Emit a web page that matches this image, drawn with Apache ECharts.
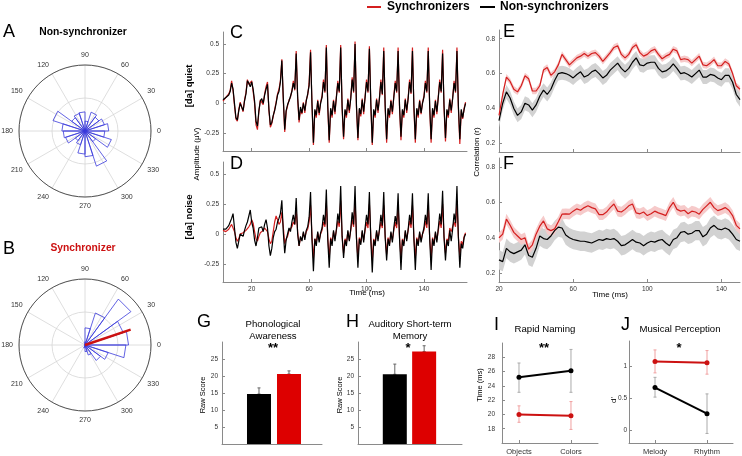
<!DOCTYPE html>
<html><head><meta charset="utf-8">
<script src="https://cdn.jsdelivr.net/npm/echarts@6/dist/echarts.min.js"></script>
<style>html,body{margin:0;padding:0;background:#fff}#c{width:742px;height:456px}</style>
</head><body><div id="c"></div>
<script>
// ================= DATA =================
// Rose histograms (20 bins of 18 degrees, bin start angles)
const roseBinStarts = [0,18,36,54,72,90,108,126,144,162,180,198,216,234,252,270,288,306,324,342];
const roseBinWidth = 18;
const roseNonSync = [3.6,3.1,2.6,3.0,1.5,2.9,2.8,2.5,5.1,3.5,3.3,3.1,1.8,2.2,3.5,3.9,5.6,2.0,4.2,3.0];
const roseSync    = [6.6,6.1,8.6,5.1,2.6,0.5,0.3,0,0,0,0,0,0,0.3,0.5,1.0,1.6,2.9,3.7,6.2];
const syncMeanAngle = 18.7, syncMeanLength = 7.3;

// Waveforms, 1 ms sampling from 0 ms
const waveStartMs = 0, waveStepMs = 1;
const quietSync = [0.02,0.03,0.05,0.05,0.08,0.11,0.19,0.11,-0.02,-0.13,-0.15,-0.05,0.01,0.0,-0.07,0.03,0.09,0.2,0.16,0.15,0.19,0.1,0.0,-0.18,-0.22,-0.07,0.03,0.03,-0.01,0.08,0.14,0.18,-0.06,-0.2,-0.17,-0.11,-0.05,0.01,0.08,0.12,0.19,0.37,0.03,-0.24,-0.07,-0.02,0.03,0.05,0.11,0.19,0.11,0.44,0.04,-0.16,-0.05,-0.09,0.01,-0.08,0.03,0.07,0.17,0.45,-0.02,-0.35,-0.06,-0.12,0.03,-0.1,0.01,0.06,0.2,0.09,0.49,-0.04,-0.33,-0.05,-0.12,0.03,-0.09,0.06,0.19,0.09,0.49,-0.05,-0.3,-0.06,-0.12,0.04,-0.08,0.05,0.22,0.09,0.52,-0.04,-0.31,-0.05,-0.11,0.04,-0.09,0.06,0.2,0.09,0.48,-0.02,-0.35,-0.06,-0.12,0.04,-0.08,0.05,0.2,0.07,0.47,-0.04,-0.33,-0.05,-0.12,0.03,-0.09,0.06,0.19,0.09,0.47,-0.04,-0.31,-0.06,-0.12,0.04,-0.08,0.05,0.2,0.08,0.47,-0.04,-0.33,-0.05,-0.12,0.03,-0.09,0.01,0.06,0.19,0.09,0.47,-0.04,-0.33,-0.05,-0.12,0.03,-0.09,0.06,0.2,0.09,0.45,-0.04,-0.32,-0.06,-0.12,0.04,-0.08,0.05,0.19,0.09,0.47,-0.04,-0.34,-0.06,-0.13,-0.04,0.01];
const quietNonSync = [0.03,0.04,0.05,0.06,0.07,0.1,0.17,0.12,0.0,-0.12,-0.14,-0.06,0.0,0.01,-0.06,0.02,0.08,0.19,0.17,0.14,0.18,0.12,0.02,-0.15,-0.19,-0.06,0.02,0.04,0.0,0.07,0.12,0.16,-0.05,-0.18,-0.16,-0.1,-0.06,0.0,0.07,0.1,0.18,0.36,0.05,-0.22,-0.06,-0.01,0.02,0.06,0.1,0.17,0.12,0.42,0.06,-0.14,-0.03,-0.08,0.0,-0.06,0.02,0.08,0.15,0.43,0.0,-0.33,-0.05,-0.1,0.02,-0.08,0.0,0.05,0.18,0.1,0.47,-0.02,-0.31,-0.04,-0.1,0.02,-0.07,0.05,0.17,0.1,0.47,-0.03,-0.28,-0.05,-0.1,0.03,-0.06,0.04,0.2,0.1,0.5,-0.02,-0.29,-0.04,-0.09,0.03,-0.07,0.05,0.18,0.1,0.46,0.0,-0.33,-0.05,-0.1,0.03,-0.06,0.04,0.18,0.08,0.44,-0.02,-0.3,-0.04,-0.1,0.02,-0.07,0.05,0.17,0.1,0.44,-0.02,-0.28,-0.05,-0.1,0.03,-0.06,0.04,0.18,0.09,0.44,-0.02,-0.3,-0.04,-0.1,0.02,-0.08,0.0,0.05,0.17,0.1,0.44,-0.02,-0.3,-0.04,-0.1,0.02,-0.07,0.05,0.18,0.1,0.42,-0.02,-0.29,-0.05,-0.1,0.03,-0.06,0.04,0.17,0.1,0.44,-0.02,-0.3,-0.05,-0.12,-0.05,0.0];
const noiseSync = [0.03,0.03,0.02,0.03,0.04,0.06,0.08,0.07,0.02,-0.03,-0.06,-0.04,0.0,0.0,0.01,0.02,0.03,0.04,0.06,0.08,0.12,0.09,0.02,-0.04,-0.06,-0.02,0.01,0.02,0.03,0.05,0.06,0.02,-0.04,-0.08,-0.06,0.02,0.1,0.15,0.12,0.08,0.1,0.18,0.06,-0.08,-0.04,-0.02,0.03,0.02,0.06,0.1,0.08,0.2,0.02,-0.1,-0.03,-0.05,0.01,-0.03,0.02,0.04,0.1,0.24,-0.02,-0.2,-0.04,-0.07,0.01,-0.05,0.0,0.03,0.1,0.06,0.26,-0.03,-0.2,-0.03,-0.07,0.02,-0.04,0.03,0.11,0.06,0.28,-0.02,-0.16,-0.04,-0.07,0.02,-0.05,0.03,0.12,0.06,0.28,-0.03,-0.2,-0.03,-0.07,0.02,-0.05,0.03,0.1,0.05,0.25,-0.03,-0.22,-0.04,-0.08,0.02,-0.04,0.03,0.1,0.05,0.24,-0.02,-0.17,-0.03,-0.08,0.01,-0.05,0.03,0.1,0.05,0.24,-0.03,-0.2,-0.04,-0.08,0.02,-0.04,0.03,0.11,0.05,0.24,-0.03,-0.2,-0.03,-0.08,0.01,-0.05,0.0,0.03,0.11,0.05,0.24,-0.03,-0.2,-0.03,-0.08,0.01,-0.05,0.03,0.11,0.05,0.25,-0.02,-0.16,-0.04,-0.06,0.05,0.02,0.03,0.1,0.06,0.27,-0.02,-0.18,-0.06,-0.09,-0.02,0.01];
const noiseNonSync = [0.04,0.05,0.04,0.05,0.07,0.1,0.13,0.17,0.05,-0.07,-0.12,-0.06,0.0,-0.01,-0.02,0.03,0.07,0.1,0.15,0.2,0.1,0.05,-0.05,-0.1,-0.03,0.05,0.04,0.06,0.02,0.08,0.12,0.05,-0.1,-0.18,-0.12,-0.03,0.02,0.04,0.1,0.13,0.17,0.28,0.02,-0.16,-0.05,0.0,0.05,0.02,0.1,0.16,0.08,0.3,0.0,-0.1,-0.02,-0.06,0.02,-0.05,0.03,0.06,0.14,0.35,-0.05,-0.31,-0.04,-0.1,0.02,-0.07,0.01,0.05,0.16,0.08,0.37,-0.05,-0.28,-0.04,-0.1,0.03,-0.06,0.04,0.17,0.09,0.4,-0.02,-0.2,-0.05,-0.1,0.03,-0.06,0.04,0.18,0.08,0.4,-0.04,-0.28,-0.04,-0.09,0.03,-0.07,0.05,0.16,0.08,0.35,-0.05,-0.32,-0.05,-0.1,0.03,-0.06,0.04,0.16,0.07,0.35,-0.03,-0.22,-0.04,-0.1,0.02,-0.07,0.05,0.15,0.08,0.34,-0.04,-0.3,-0.05,-0.1,0.03,-0.06,0.04,0.16,0.08,0.34,-0.04,-0.3,-0.04,-0.1,0.02,-0.07,0.0,0.05,0.16,0.08,0.34,-0.04,-0.3,-0.04,-0.1,0.02,-0.07,0.05,0.17,0.08,0.36,-0.03,-0.22,-0.05,-0.1,0.03,-0.06,0.04,0.17,0.09,0.4,-0.03,-0.28,-0.08,-0.12,-0.03,0.0];

// Correlations, 2 ms sampling from 20 ms
const corrStartMs = 20, corrStepMs = 2;
const corrQuietSync = [0.36,0.48,0.58,0.555,0.51,0.495,0.53,0.587,0.57,0.50,0.50,0.53,0.62,0.635,0.59,0.61,0.65,0.71,0.68,0.65,0.67,0.69,0.70,0.715,0.70,0.715,0.72,0.70,0.67,0.695,0.72,0.75,0.76,0.71,0.69,0.71,0.75,0.765,0.72,0.70,0.71,0.73,0.74,0.71,0.685,0.70,0.71,0.74,0.73,0.68,0.685,0.68,0.66,0.68,0.70,0.65,0.645,0.66,0.68,0.645,0.645,0.67,0.655,0.60,0.53,0.51];
const corrQuietNonSync = [0.33,0.43,0.495,0.46,0.40,0.36,0.38,0.43,0.42,0.39,0.42,0.47,0.505,0.48,0.51,0.56,0.60,0.605,0.60,0.59,0.575,0.595,0.61,0.58,0.59,0.61,0.62,0.60,0.575,0.59,0.62,0.64,0.66,0.63,0.61,0.63,0.665,0.69,0.65,0.645,0.66,0.665,0.665,0.63,0.61,0.615,0.63,0.655,0.63,0.60,0.605,0.595,0.58,0.60,0.62,0.58,0.58,0.595,0.59,0.575,0.565,0.59,0.59,0.55,0.48,0.45];
const corrNoiseSync = [0.40,0.42,0.505,0.47,0.43,0.41,0.39,0.40,0.335,0.36,0.42,0.465,0.495,0.45,0.44,0.45,0.49,0.533,0.535,0.533,0.55,0.563,0.555,0.57,0.58,0.57,0.563,0.53,0.53,0.545,0.57,0.59,0.55,0.545,0.56,0.58,0.59,0.54,0.535,0.545,0.525,0.535,0.55,0.54,0.533,0.525,0.57,0.60,0.56,0.55,0.555,0.535,0.55,0.545,0.533,0.56,0.58,0.60,0.57,0.553,0.56,0.57,0.555,0.525,0.47,0.45];
const corrNoiseNonSync = [0.275,0.265,0.34,0.32,0.31,0.32,0.33,0.36,0.30,0.29,0.34,0.41,0.395,0.39,0.41,0.44,0.46,0.455,0.415,0.40,0.39,0.385,0.38,0.38,0.375,0.37,0.38,0.39,0.385,0.395,0.39,0.395,0.38,0.355,0.36,0.375,0.39,0.375,0.37,0.355,0.37,0.38,0.375,0.385,0.39,0.37,0.355,0.39,0.40,0.43,0.435,0.42,0.425,0.44,0.44,0.405,0.42,0.455,0.47,0.45,0.445,0.455,0.445,0.42,0.39,0.38];
const semQuietSync = 0.018, semQuietNonSync = 0.04, semNoiseSync = 0.03, semNoiseNonSync = 0.055;

// Bar panels G, H  [non-synchronizers, synchronizers]
const phonoMean = [14.7, 20.6], phonoUpper = [16.5, 21.5];
const memoryMean = [20.5, 27.2], memoryUpper = [23.5, 28.9];
const barTicks = [5,10,15,20,25];

// Line panels I, J
const namingCats = ['Objects','Colors'];
const namingNonSync = [25.2, 26.1], namingNonSyncLo = [23.1, 23.1], namingNonSyncHi = [27.2, 29.1];
const namingSync = [20.0, 19.8], namingSyncLo = [18.9, 17.9], namingSyncHi = [21.2, 21.8];
const namingTicks = [18,20,22,24,26,28];
const musicCats = ['Melody','Rhythm'];
const musicNonSync = [0.67, 0.26], musicNonSyncLo = [0.52, -0.05], musicNonSyncHi = [0.83, 0.57];
const musicSync = [1.08, 1.06], musicSyncLo = [0.90, 0.88], musicSyncHi = [1.26, 1.25];
const musicTicks = [0, 0.5, 1];

const waveTicks = [20, 60, 100, 140];
const ampTicks = [-0.25, 0, 0.25, 0.5];
const corrTicks = [0.2, 0.4, 0.6, 0.8];

// ================= STYLE =================
const RED = '#d41f1f', BLACK = '#000000', BLUE = '#3b3bdc';
const AXC = '#8a8a8a', LBL = '#333333', FONT = 'Liberation Sans, Arial, sans-serif';

function pairs(start, step, arr){ return arr.map((v,i)=>[start + i*step, v]); }
function axisBase(grid, min, max, ticks, showLabels, extra){
  return Object.assign({
    type:'value', gridIndex:grid, min:min, max:max, scale:false,
    axisLine:{show:true, onZero:false, lineStyle:{color:AXC, width:1}},
    axisTick:{show:!!ticks, inside:true, length:3, customValues:ticks||[], lineStyle:{color:AXC}},
    axisLabel:{show:showLabels, customValues:ticks||[], fontSize:6.5, color:LBL, fontFamily:FONT, margin:4},
    splitLine:{show:false}
  }, extra||{});
}
function lineS(grid, data, color, width, extra){
  return Object.assign({type:'line', xAxisIndex:grid, yAxisIndex:grid, data:data, showSymbol:false, symbol:'none',
    lineStyle:{color:color, width:width}, itemStyle:{color:color}, silent:true, animation:false}, extra||{});
}
function bandS(grid, start, step, mean, sem, fill){
  return {type:'custom', xAxisIndex:grid, yAxisIndex:grid, data:[[start, mean[0]]], silent:true, animation:false, z:1,
    renderItem:function(p, api){
      const pts=[];
      for(let i=0;i<mean.length;i++) pts.push(api.coord([start+i*step, mean[i]+sem]));
      for(let i=mean.length-1;i>=0;i--) pts.push(api.coord([start+i*step, mean[i]-sem]));
      return {type:'polygon', shape:{points:pts}, style:{fill:fill}};
    }};
}
function errS(grid, xs, lo, hi, color, cap){
  return {type:'custom', xAxisIndex:grid, yAxisIndex:grid, silent:true, animation:false, z:1,
    data: xs.map((x,i)=>[x, lo[i], hi[i]]),
    renderItem:function(p, api){
      const a = api.coord([api.value(0), api.value(1)]), b = api.coord([api.value(0), api.value(2)]);
      const st = {stroke:color, lineWidth:1};
      return {type:'group', children:[
        {type:'line', shape:{x1:a[0],y1:a[1],x2:b[0],y2:b[1]}, style:st},
        {type:'line', shape:{x1:a[0]-cap,y1:a[1],x2:a[0]+cap,y2:a[1]}, style:st},
        {type:'line', shape:{x1:b[0]-cap,y1:b[1],x2:b[0]+cap,y2:b[1]}, style:st}
      ]};
    }};
}
function roseData(starts, width, counts){
  const d=[];
  counts.forEach((c,i)=>{ const a1=starts[i], a2=starts[i]+width; d.push([0,a1],[c,a1],[c,a2],[0,a2]); });
  return d;
}
function txt(x, y, text, o){
  o = o||{};
  return {type:'text', x:x, y:y, rotation:o.rot||0, silent:true, z:100,
    style:{text:text, fill:o.color||'#000', font:(o.weight||'normal')+' '+(o.size||9)+'px '+FONT,
      textAlign:o.align||'center', textVerticalAlign:'middle'}};
}

// ================= CHART =================
const chart = echarts.init(document.getElementById('c'), null, {renderer:'canvas'});

const grids = [
  {left:223, top:32, width:244, height:119},  // C
  {left:223, top:162, width:244, height:120}, // D
  {left:499, top:30, width:241, height:122},  // E
  {left:499, top:158, width:241, height:124}, // F
  {left:222, top:342, width:100, height:102}, // G
  {left:358, top:342, width:104, height:102}, // H
  {left:502, top:343, width:96, height:101},  // I
  {left:629, top:341, width:104, height:103}  // J
];

const catLabel = (cats, margin) => ({show:true, customValues:[1,2], fontSize:7.5, color:LBL, fontFamily:FONT, margin:margin, formatter:v=>cats[Math.round(v)-1]});
const xAxes = [
  axisBase(0, 0, 170, waveTicks, false),
  axisBase(1, 0, 170, waveTicks, true),
  axisBase(2, 20, 150, waveTicks, false),
  axisBase(3, 20, 150, waveTicks, true),
  axisBase(4, -0.233, 3.1, null, false),
  axisBase(5, -0.254, 3.29, null, false),
  axisBase(6, 0.673, 2.52, [1,2], true, {axisLabel:catLabel(namingCats, 5)}),
  axisBase(7, 0.5, 2.5, [1,2], true, {axisLabel:catLabel(musicCats, 5)})
];
const yLab = (m) => ({show:true, fontSize:6.5, color:LBL, fontFamily:FONT, margin:m});
const yAxes = [
  axisBase(0, -0.4, 0.6, ampTicks, true),
  axisBase(1, -0.4, 0.6, ampTicks, true),
  axisBase(2, 0.15, 0.85, corrTicks, true),
  axisBase(3, 0.15, 0.85, corrTicks, true),
  axisBase(4, 0, 30, barTicks, true),
  axisBase(5, 0, 30, barTicks, true),
  axisBase(6, 16, 30, namingTicks, true, {axisLabel:Object.assign(yLab(7), {customValues:namingTicks})}),
  axisBase(7, -0.2, 1.4, musicTicks, true, {axisLabel:Object.assign(yLab(2), {customValues:musicTicks})})
];

function polarAxes(idx){
  return {
    angle:{polarIndex:idx, type:'value', min:0, max:360, interval:30, startAngle:0, clockwise:false,
      axisLine:{show:true, lineStyle:{color:'#555', width:1}}, axisTick:{show:false},
      axisLabel:{show:true, fontSize:7, color:LBL, fontFamily:FONT, margin:6, formatter:v=> (v>=360?'':String(v))},
      splitLine:{show:true, lineStyle:{color:'#d6d6d6', width:0.8}}},
    radius:{polarIndex:idx, type:'value', min:0, max:10, interval:5,
      axisLine:{show:false}, axisTick:{show:false}, axisLabel:{show:false},
      splitLine:{show:true, lineStyle:{color:'#d6d6d6', width:0.8}}}
  };
}
const pA = polarAxes(0), pB = polarAxes(1);

const series = [
  // rose A / B
  {type:'line', coordinateSystem:'polar', polarIndex:0, data:roseData(roseBinStarts, roseBinWidth, roseNonSync),
    symbol:'none', lineStyle:{color:BLUE, width:0.8}, silent:true, animation:false},
  {type:'line', coordinateSystem:'polar', polarIndex:1, data:roseData(roseBinStarts, roseBinWidth, roseSync),
    symbol:'none', lineStyle:{color:BLUE, width:0.8}, silent:true, animation:false},
  {type:'line', coordinateSystem:'polar', polarIndex:1, data:[[0, syncMeanAngle],[syncMeanLength, syncMeanAngle]],
    symbol:'none', lineStyle:{color:'#cc1111', width:2.4}, silent:true, animation:false, z:5},
  // C, D
  lineS(0, pairs(waveStartMs, waveStepMs, quietSync), RED, 1.2),
  lineS(0, pairs(waveStartMs, waveStepMs, quietNonSync), BLACK, 1.2),
  lineS(1, pairs(waveStartMs, waveStepMs, noiseSync), RED, 1.2),
  lineS(1, pairs(waveStartMs, waveStepMs, noiseNonSync), BLACK, 1.2),
  // E
  bandS(2, corrStartMs, corrStepMs, corrQuietNonSync, semQuietNonSync, '#d2d2d2'),
  bandS(2, corrStartMs, corrStepMs, corrQuietSync, semQuietSync, '#f6caca'),
  lineS(2, pairs(corrStartMs, corrStepMs, corrQuietNonSync), BLACK, 1.2, {z:3}),
  lineS(2, pairs(corrStartMs, corrStepMs, corrQuietSync), RED, 1.2, {z:3}),
  // F
  bandS(3, corrStartMs, corrStepMs, corrNoiseNonSync, semNoiseNonSync, '#d2d2d2'),
  bandS(3, corrStartMs, corrStepMs, corrNoiseSync, semNoiseSync, '#f6caca'),
  lineS(3, pairs(corrStartMs, corrStepMs, corrNoiseNonSync), BLACK, 1.2, {z:3}),
  lineS(3, pairs(corrStartMs, corrStepMs, corrNoiseSync), RED, 1.2, {z:3}),
  // G
  errS(4, [1,2], phonoMean, phonoUpper, '#666', 1.5),
  {type:'bar', xAxisIndex:4, yAxisIndex:4, barWidth:24, silent:true, animation:false, z:2,
    data:[{value:[1, phonoMean[0]], itemStyle:{color:'#000'}},{value:[2, phonoMean[1]], itemStyle:{color:'#dd0000'}}]},
  // H
  errS(5, [1,2], memoryMean, memoryUpper, '#666', 1.5),
  {type:'bar', xAxisIndex:5, yAxisIndex:5, barWidth:24, silent:true, animation:false, z:2,
    data:[{value:[1, memoryMean[0]], itemStyle:{color:'#000'}},{value:[2, memoryMean[1]], itemStyle:{color:'#dd0000'}}]},
  // I
  errS(6, [1,2], namingNonSyncLo, namingNonSyncHi, '#aaaaaa', 1.5),
  errS(6, [1,2], namingSyncLo, namingSyncHi, '#f0a0a0', 1.5),
  lineS(6, [[1,namingNonSync[0]],[2,namingNonSync[1]]], BLACK, 2, {symbol:'circle', symbolSize:5, showSymbol:true, z:3}),
  lineS(6, [[1,namingSync[0]],[2,namingSync[1]]], '#cc1111', 2, {symbol:'circle', symbolSize:5, showSymbol:true, z:3}),
  // J
  errS(7, [1,2], musicNonSyncLo, musicNonSyncHi, '#aaaaaa', 1.5),
  errS(7, [1,2], musicSyncLo, musicSyncHi, '#f0a0a0', 1.5),
  lineS(7, [[1,musicNonSync[0]],[2,musicNonSync[1]]], BLACK, 2, {symbol:'circle', symbolSize:5, showSymbol:true, z:3}),
  lineS(7, [[1,musicSync[0]],[2,musicSync[1]]], '#cc1111', 2, {symbol:'circle', symbolSize:5, showSymbol:true, z:3})
];

const graphics = [
  // legend
  {type:'line', shape:{x1:367,y1:7,x2:381,y2:7}, style:{stroke:RED, lineWidth:2}, silent:true},
  txt(387, 7, 'Synchronizers', {align:'left', weight:'bold', size:12}),
  {type:'line', shape:{x1:480,y1:7,x2:495,y2:7}, style:{stroke:'#000', lineWidth:2}, silent:true},
  txt(500, 7, 'Non-synchronizers', {align:'left', weight:'bold', size:12}),
  // A, B
  txt(3, 32, 'A', {align:'left', size:18}),
  txt(83, 32, 'Non-synchronizer', {weight:'bold', size:10.3}),
  txt(3, 249, 'B', {align:'left', size:18}),
  txt(83, 248, 'Synchronizer', {weight:'bold', size:10.3, color:'#cc1111'}),
  // panel letters
  txt(230, 33, 'C', {align:'left', size:18}),
  txt(230, 164, 'D', {align:'left', size:18}),
  txt(503, 32, 'E', {align:'left', size:18}),
  txt(503, 164, 'F', {align:'left', size:18}),
  txt(197, 322, 'G', {align:'left', size:18}),
  txt(346, 322, 'H', {align:'left', size:18}),
  txt(494, 325, 'I', {align:'left', size:18}),
  txt(621, 325, 'J', {align:'left', size:18}),
  // rotated side labels
  txt(189, 86, '[da] quiet', {rot:Math.PI/2, weight:'bold', size:9.5}),
  txt(189, 217, '[da] noise', {rot:Math.PI/2, weight:'bold', size:9.5}),
  txt(197, 154, 'Amplitude (\u03bcV)', {rot:Math.PI/2, size:8}),
  txt(477, 152, 'Correlation (r)', {rot:Math.PI/2, size:8}),
  txt(367, 293, 'Time (ms)', {size:8}),
  txt(610, 295, 'Time (ms)', {size:8}),
  // bottom titles
  txt(273, 324, 'Phonological', {size:9.6}),
  txt(273, 336, 'Awareness', {size:9.6}),
  txt(273, 348, '**', {weight:'bold', size:13}),
  txt(410, 324, 'Auditory Short-term', {size:9.6}),
  txt(410, 336, 'Memory', {size:9.6}),
  txt(408, 348, '*', {weight:'bold', size:13}),
  txt(545, 329, 'Rapid Naming', {size:9.6}),
  txt(544, 348, '**', {weight:'bold', size:13}),
  txt(680, 329, 'Musical Perception', {size:9.6}),
  txt(679, 348, '*', {weight:'bold', size:13}),
  txt(203, 395, 'Raw Score', {rot:Math.PI/2, size:7.5}),
  txt(340, 395, 'Raw Score', {rot:Math.PI/2, size:7.5}),
  txt(480, 385, 'Time (ms)', {rot:Math.PI/2, size:7.5}),
  txt(614, 400, "d'", {rot:Math.PI/2, size:8})
];

chart.setOption({
  animation:false,
  backgroundColor:'#ffffff',
  textStyle:{fontFamily:FONT},
  grid: grids.map(g=>Object.assign({containLabel:false}, g)),
  xAxis: xAxes,
  yAxis: yAxes,
  polar:[{center:[85,131], radius:66},{center:[85,345], radius:66}],
  angleAxis:[pA.angle, pB.angle],
  radiusAxis:[pA.radius, pB.radius],
  series: series,
  graphic: graphics
});
</script>
</body></html>
